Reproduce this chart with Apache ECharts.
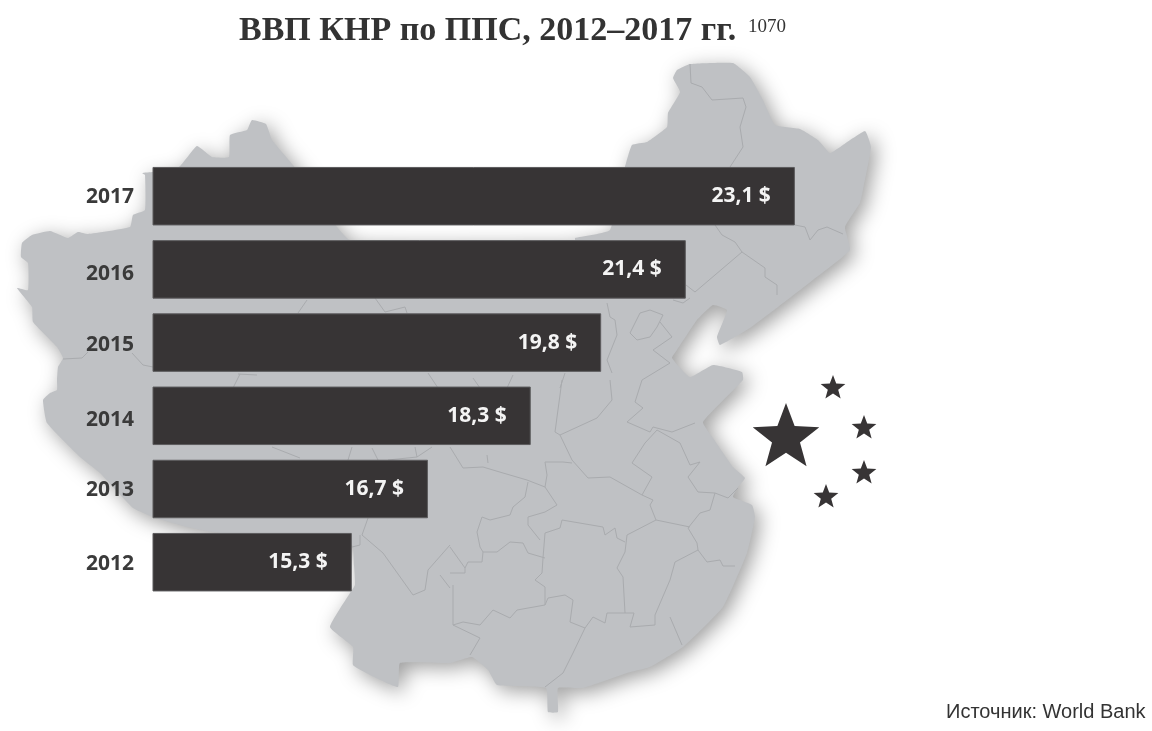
<!DOCTYPE html>
<html>
<head>
<meta charset="utf-8">
<style>html,body{margin:0;padding:0;background:#fff}#c{width:1152px;height:731px}</style>
<script src="https://cdn.jsdelivr.net/npm/echarts@6/dist/echarts.min.js"></script>
</head>
<body>
<div id="c"></div>
<script>
// Chart data, top to bottom order is reversed by the category axis
const years = ['2012','2013','2014','2015','2016','2017'];
// Bar lengths as drawn in the picture (the picture's bars are not strictly proportional to their labels)
const barValues = [15.3, 16.64, 18.45, 19.69, 21.18, 23.1];
const valueLabels = ['15,3 $','16,7 $','18,3 $','19,8 $','21,4 $','23,1 $'];

const titleText = 'ВВП КНР по ППС, 2012–2017 гг.';
const noteText = '1070';
const sourceText = 'Источник: World Bank';

// Year labels sit slightly off the bar centres in the picture (downward shift, px)
const yearLabelShift = [1, 0, 3, 1, 4, 0];

// Decorative backdrop: map of China, in page pixels
const mapOutline = [[179,167],[197,146],[212,157],[229,157],[230,135],[247,130],[252,120],[266,124],[272,140],[293,165],[337,227],[350,240],[575,240],[575,238],[610,230],[625,167],[632,145],[647,142],[667,127],[668,113],[680,92],[673,78],[677,70],[690,64],[733,63],[750,77],[763,100],[775,125],[800,129],[818,140],[830,153],[843,145],[865,131],[871,147],[863,190],[860,203],[845,227],[850,250],[813,280],[778,307],[750,328],[720,345],[717,337],[727,310],[713,305],[697,320],[677,350],[672,358],[690,377],[713,365],[742,372],[743,380],[703,422],[713,438],[733,467],[745,478],[738,487],[733,497],[752,505],[755,517],[747,553],[723,607],[683,647],[650,667],[627,673],[583,688],[558,688],[558,712],[548,712],[546,688],[497,685],[488,670],[472,657],[450,663],[400,663],[398,687],[370,675],[353,665],[353,647],[330,627],[350,593],[355,585],[354,565],[352,545],[220,533],[187,527],[153,517],[133,508],[100,473],[80,457],[47,423],[43,400],[50,393],[57,390],[57,380],[58,367],[63,358],[57,347],[33,322],[32,307],[17,288],[28,290],[28,263],[21,257],[22,243],[32,235],[50,231],[68,238],[78,232],[88,234],[130,227],[133,215],[145,210],[145,175],[142,173],[153,172]];
const mapBorders = [
 [[690,64],[691,83],[702,87],[712,100],[743,98],[746,107],[740,127],[743,147],[730,167]],
 [[715,225],[722,235],[735,242],[742,252],[695,292],[686,285]],
 [[742,252],[765,268],[765,277],[777,285],[777,295]],
 [[795,225],[805,227],[810,240],[818,230],[827,227],[843,234]],
 [[673,300],[683,303],[690,298]],
 [[607,303],[610,317],[615,320],[617,335],[607,360],[612,373]],
 [[640,313],[650,310],[663,315],[657,327],[650,337],[637,340],[630,333],[640,313]],
 [[660,322],[672,337],[653,350],[670,363],[642,380],[635,402],[643,408],[627,422],[650,432],[653,427],[672,432],[695,423]],
 [[610,380],[612,400],[597,418],[560,435],[555,432],[562,380]],
 [[560,435],[572,460],[588,478],[610,477],[642,495],[653,500],[650,505],[656,520]],
 [[642,495],[652,477],[632,463],[645,443],[657,430],[680,443],[690,465],[700,462],[688,477],[698,492],[715,493],[728,498],[738,488]],
 [[715,493],[710,510],[700,513],[688,528],[697,543],[698,550],[707,562],[720,560],[723,566],[735,566]],
 [[698,550],[675,562],[670,580],[655,615],[655,625],[630,627],[634,613],[607,613],[605,623],[593,617],[585,628],[570,622],[573,600],[565,595],[548,598],[545,605],[517,610],[510,618],[493,610],[480,625],[463,622],[453,625]],
 [[656,520],[690,527]],
 [[656,520],[627,535],[625,552],[617,568],[623,577],[625,613]],
 [[625,542],[617,538],[615,528],[605,535],[603,527],[562,520],[560,528],[545,533],[543,558],[542,573],[535,580],[545,587],[545,605]],
 [[545,558],[528,553],[523,543],[510,542],[497,552],[483,552],[480,547],[477,532],[482,517],[490,520],[510,515],[513,507],[525,497],[528,482]],
 [[545,487],[547,475],[545,462],[563,462],[572,463]],
 [[545,487],[527,480],[503,473],[483,467],[463,468],[450,447]],
 [[545,487],[557,505],[545,512],[528,517],[528,525],[540,540]],
 [[450,547],[465,568],[468,562],[482,562],[483,552]],
 [[450,573],[465,573],[465,568]],
 [[453,585],[453,625],[480,638],[470,655]],
 [[585,628],[573,653],[563,673],[545,687]],
 [[670,617],[682,645]],
 [[487,455],[488,463]],
 [[272,447],[300,458]],
 [[348,460],[352,447]],
 [[372,448],[378,460]],
 [[388,460],[417,457],[432,447]],
 [[415,447],[417,457]],
 [[368,518],[362,535],[383,553],[413,595],[425,590],[428,570],[450,545]],
 [[360,535],[360,545],[352,547]],
 [[440,575],[450,588]],
 [[307,300],[298,313]],
 [[375,298],[385,312],[405,307],[407,313]],
 [[63,359],[82,358],[88,352]],
 [[132,353],[143,365],[153,367]],
 [[240,374],[233,388]],
 [[238,374],[257,375]],
 [[428,373],[438,388]],
 [[473,378],[480,388]],
 [[513,375],[507,388]],
 [[565,373],[560,388]]
];
// Decorative stars: [cx, cy, outer radius]
const flagStars = [[786,438,35],[833,388,13],[864,428,13],[864,473,13],[826,497,13]];

function starPoints(cx, cy, R){
  const pts = [], r = R * 0.42;
  for (let i = 0; i < 10; i++){
    const a = -Math.PI / 2 + i * Math.PI / 5, q = i % 2 ? r : R;
    pts.push([cx + q * Math.cos(a), cy + q * Math.sin(a)]);
  }
  return pts;
}

const graphics = [
  { type:'polygon', z:0, shape:{points:mapOutline, smooth:0.12}, style:{fill:'#bfc1c4', shadowBlur:20, shadowOffsetX:5, shadowOffsetY:5, shadowColor:'rgba(0,0,0,0.38)'}, silent:true },
  { type:'text', z:1, left:748, top:18, style:{text:noteText, fill:'#333', font:'19px "Liberation Serif"'} },
  { type:'text', z:1, left:946, top:702, style:{text:sourceText, fill:'#333', font:'20px "Liberation Sans"'} }
];
mapBorders.forEach(b => graphics.push({ type:'polyline', z:1, shape:{points:b}, style:{stroke:'#a9abae', lineWidth:1, fill:null}, silent:true }));
flagStars.forEach(s => graphics.push({ type:'polygon', z:1, shape:{points:starPoints(s[0], s[1], s[2])}, style:{fill:'#373435'}, silent:true }));

const yearStyle = { fontFamily:'Open Sans', fontWeight:'bold', fontSize:21, color:'#3a3a3a' };
const yearRich = {};
yearLabelShift.forEach((s, i) => { yearRich['y' + i] = Object.assign({ padding:[(s + 1) * 2, 0, 0, 0] }, yearStyle); });

const chart = echarts.init(document.getElementById('c'), null, {renderer:'canvas'});
chart.setOption({
  animation:false,
  backgroundColor:'#fff',
  title:{ text:titleText, left:234, top:9, textStyle:{fontFamily:'Liberation Serif', fontWeight:'bold', fontSize:34, color:'#333'} },
  graphic:graphics,
  grid:{ left:153, top:159.6, width:693, height:439.2, containLabel:false },
  xAxis:{ type:'value', min:11.8, max:24, show:false },
  yAxis:{ type:'category', data:years, axisLine:{show:false}, axisTick:{show:false},
    axisLabel:{ margin:19, formatter:(v, i) => '{y' + i + '|' + v + '}', rich:yearRich } },
  series:[{
    type:'bar', data:barValues, barWidth:58.5, z:3,
    itemStyle:{ color:'#373435', borderColor:'#5c5b5d', borderWidth:1 },
    label:{ show:true, position:'insideRight', distance:24, fontFamily:'Open Sans', fontWeight:'bold', fontSize:21, color:'#f4f4f4',
      formatter:p => valueLabels[p.dataIndex] }
  }]
});
</script>
</body>
</html>
